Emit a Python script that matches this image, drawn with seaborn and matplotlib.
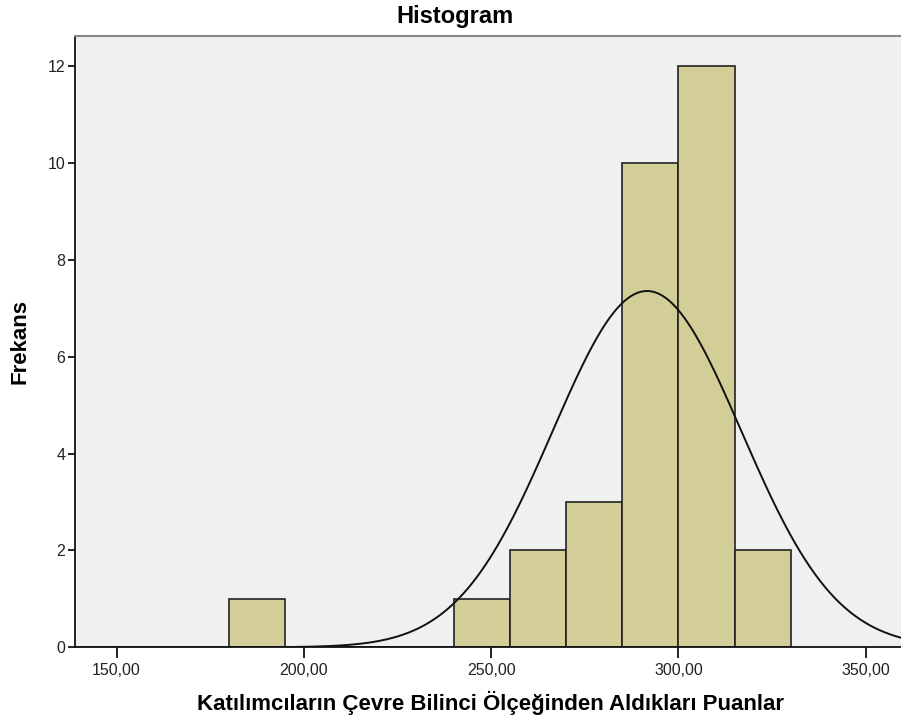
import numpy as np
import matplotlib
matplotlib.use("Agg")
import matplotlib.pyplot as plt
import seaborn as sns
from matplotlib.ticker import FuncFormatter

# histogram bins (width 15) and counts
bin_edges = [180, 195, 210, 225, 240, 255, 270, 285, 300, 315, 330]
counts = [1, 0, 0, 0, 1, 2, 3, 10, 12, 2]
bin_centers = [(a + b) / 2 for a, b in zip(bin_edges[:-1], bin_edges[1:])]

# fitted normal curve parameters
mean_score = 291.6
sd_score = 25.2
n_total = 31
bin_width = 15

sns.set_style("white")
plt.rcParams['font.family'] = ['Liberation Sans', 'DejaVu Sans']
plt.rcParams['text.color'] = 'black'
plt.rcParams['axes.labelcolor'] = 'black'

fig = plt.figure(figsize=(9.01, 7.2), dpi=100)
ax = fig.add_axes([0.0832, 0.101, 0.9168, 0.849])
ax.set_facecolor("#F0F0F0")

sns.histplot(x=bin_centers, weights=counts, bins=bin_edges, ax=ax,
             color="#D3CE97", alpha=1, edgecolor="#222222", linewidth=1.2)

xs = np.linspace(138, 360, 500)
ys = n_total * bin_width / (sd_score * np.sqrt(2 * np.pi)) * np.exp(-0.5 * ((xs - mean_score) / sd_score) ** 2)
sns.lineplot(x=xs, y=ys, ax=ax, color="#111111", linewidth=1.4)

ax.set_xlim(138.9, 359.4)
ax.set_ylim(0, 12.63)
ax.set_xticks([150, 200, 250, 300, 350])
ax.set_yticks([0, 2, 4, 6, 8, 10, 12])
ax.xaxis.set_major_formatter(FuncFormatter(lambda v, p: f"{v:.2f}".replace(".", ",")))

ax.tick_params(axis="both", direction="out", bottom=True, left=True, length=5, width=1.3,
               labelsize=11.5, colors="#111111", labelcolor="#222222", pad=2)
ax.tick_params(axis="x", length=8, pad=3)
for s in ["left", "bottom"]:
    ax.spines[s].set_color("#111111")
    ax.spines[s].set_linewidth(1.3)
ax.spines["top"].set_color("#888888")
ax.spines["top"].set_linewidth(1.5)
ax.spines["right"].set_visible(False)

ax.set_xlabel("")
ax.set_ylabel("")
fig.text(455 / 901, 1 - 17 / 720, "Histogram", fontsize=17, fontweight="bold", ha="center", va="center")
fig.text(491 / 901, 1 - 703 / 720, "Katılımcıların Çevre Bilinci Ölçeğinden Aldıkları Puanlar",
         fontsize=16, fontweight="bold", ha="center", va="center")
fig.text(20 / 901, 1 - 342 / 720, "Frekans", fontsize=16, fontweight="bold", ha="center", va="center", rotation=90)

fig.savefig("out.png", dpi=100)
